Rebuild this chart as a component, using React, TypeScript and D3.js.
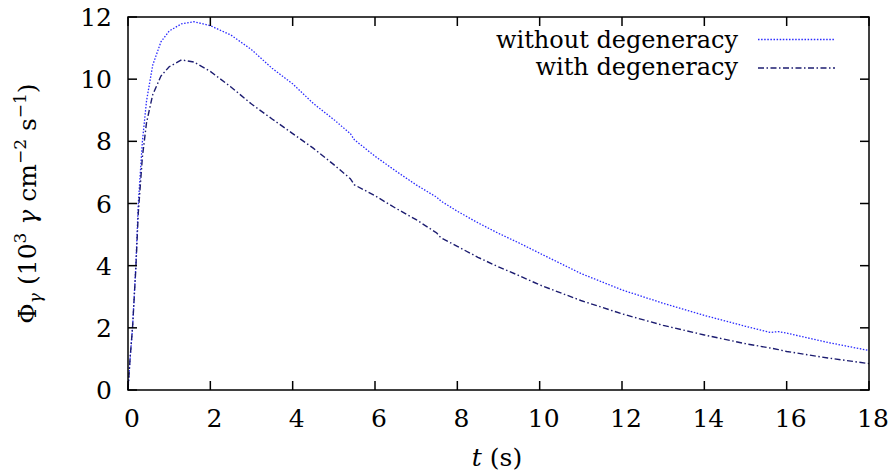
import React from 'react';
import * as d3 from 'd3';

// time (s)
const times = [0, 0.05, 0.11, 0.19, 0.25, 0.35, 0.45, 0.6, 0.8, 1.0, 1.3, 1.6, 2.0, 2.5, 3.0, 3.5, 4.0, 4.5, 5.0, 5.4, 5.5, 6.0, 6.5, 7.0, 7.5, 7.6, 8.0, 8.5, 9.0, 9.5, 10, 11, 12, 13, 14, 15, 15.6, 15.8, 16, 17, 18];

// flux, 10^3 gamma cm^-2 s^-1
const withoutDegeneracy = [0, 1.0, 2.0, 4.0, 6.0, 8.0, 9.3, 10.45, 11.2, 11.55, 11.78, 11.85, 11.72, 11.42, 10.95, 10.35, 9.85, 9.22, 8.7, 8.25, 8.05, 7.52, 7.05, 6.6, 6.2, 6.08, 5.75, 5.38, 5.04, 4.73, 4.4, 3.75, 3.22, 2.79, 2.4, 2.05, 1.85, 1.88, 1.83, 1.53, 1.27];
const withDegeneracy = [0, 1.0, 2.0, 3.9, 5.7, 7.5, 8.6, 9.5, 10.1, 10.4, 10.62, 10.55, 10.25, 9.75, 9.2, 8.72, 8.25, 7.78, 7.25, 6.8, 6.6, 6.25, 5.85, 5.48, 5.05, 4.9, 4.62, 4.27, 3.96, 3.68, 3.38, 2.88, 2.45, 2.08, 1.77, 1.49, 1.35, 1.3, 1.24, 1.03, 0.85];

const xTicks = [0, 2, 4, 6, 8, 10, 12, 14, 16, 18];
const yTicks = [0, 2, 4, 6, 8, 10, 12];

const W = 891;
const H = 474;
const left = 128, right = 869, top = 17, bottom = 390;
const font = "'DejaVu Serif', serif";
const fs = 25;
const tickLen = 9;

export default function App() {
  const x = d3.scaleLinear().domain([0, 18]).range([left, right]);
  const y = d3.scaleLinear().domain([0, 12]).range([bottom, top]);

  const line = d3.line<number>()
    .x((_, i) => x(times[i]))
    .y(d => y(d));

  const series = [
    { name: 'without degeneracy', values: withoutDegeneracy, color: '#2a2aff', dash: '1.5,1.6', width: 1.3 },
    { name: 'with degeneracy', values: withDegeneracy, color: '#1c1c70', dash: '6,2.5,1.5,2.5', width: 1.4 },
  ];

  return (
    <svg width={W} height={H} style={{ position: 'absolute', left: 0, top: 0 }}>
      <rect x={0} y={0} width={W} height={H} fill="white" />

      {/* curves */}
      {series.map(s => (
        <path key={s.name} d={line(s.values) || ''} fill="none" stroke={s.color}
          strokeWidth={s.width} strokeDasharray={s.dash} />
      ))}

      <g fontFamily={font} fill="black">
        {/* ticks on all four sides */}
        {xTicks.map(t => (
          <g key={'x' + t}>
            <line x1={x(t)} x2={x(t)} y1={bottom} y2={bottom - tickLen} stroke="black" strokeWidth={1.5} />
            <line x1={x(t)} x2={x(t)} y1={top} y2={top + tickLen} stroke="black" strokeWidth={1.5} />
            <text x={x(t) + 4} y={427} fontSize={fs} textAnchor="middle">{t}</text>
          </g>
        ))}
        {yTicks.map(t => (
          <g key={'y' + t}>
            <line x1={left} x2={left + tickLen} y1={y(t)} y2={y(t)} stroke="black" strokeWidth={1.5} />
            <line x1={right} x2={right - tickLen} y1={y(t)} y2={y(t)} stroke="black" strokeWidth={1.5} />
            <text x={112} y={y(t) + 9} fontSize={fs} textAnchor="end">{t}</text>
          </g>
        ))}

        {/* frame */}
        <rect x={left} y={top} width={right - left} height={bottom - top} fill="none" stroke="black" strokeWidth={1.5} />

        {/* legend */}
        {series.map((s, i) => (
          <g key={'leg' + s.name}>
            <text x={738} y={48 + i * 27} fontSize={24} textAnchor="end">{s.name}</text>
            <line x1={758} x2={835} y1={39.5 + i * 28.5} y2={39.5 + i * 28.5} stroke={s.color}
              strokeWidth={s.width} strokeDasharray={s.dash} />
          </g>
        ))}

        {/* x label */}
        <text x={497} y={466} fontSize={fs} textAnchor="middle">
          <tspan fontStyle="italic">t</tspan> (s)
        </text>

        {/* y label */}
        <text transform={`translate(36,${(top + bottom) / 2}) rotate(-90)`} fontSize={fs} textAnchor="middle">
          Φ<tspan fontSize={17} fontStyle="italic" dy={5}>γ</tspan>
          <tspan dy={-5}> (10</tspan>
          <tspan fontSize={17} dy={-10}>3</tspan>
          <tspan dy={10}> </tspan>
          <tspan fontStyle="italic">γ</tspan>
          <tspan> cm</tspan>
          <tspan fontSize={17} dy={-10}>−2</tspan>
          <tspan dy={10}> s</tspan>
          <tspan fontSize={17} dy={-10}>−1</tspan>
          <tspan dy={10}>)</tspan>
        </text>
      </g>
    </svg>
  );
}
